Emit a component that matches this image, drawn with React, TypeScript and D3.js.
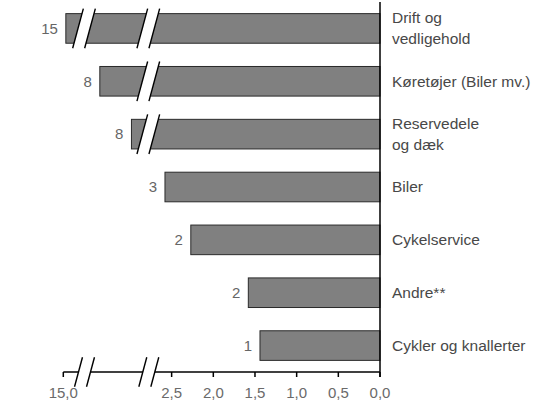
import React, { useEffect, useRef } from 'react';
import * as d3 from 'd3';

// Categories from top to bottom (multi-line labels split on '\n')
const categories = [
  'Drift og\nvedligehold',
  'Køretøjer (Biler mv.)',
  'Reservedele\nog dæk',
  'Biler',
  'Cykelservice',
  'Andre**',
  'Cykler og knallerter',
];
const values = [14.8, 8.3, 7.7, 2.58, 2.27, 1.58, 1.44];
const tickValues = [15, 2.5, 2, 1.5, 1, 0.5, 0];
// Broken axis: domain knots of the piecewise scale, breaks drawn at these values
const axisKnots = [0, 2.78, 7.5, 8.6, 14, 15];
const axisBreaks = [2.78, 8.6];

const App: React.FC = () => {
  const svgRef = useRef<SVGSVGElement>(null);

  useEffect(() => {
    if (!svgRef.current) return;
    const width = 533;
    const height = 402;
    const plotRight = 380;
    const plotLeft = 63.3;
    const axisY = 372;
    const unit = (plotRight - 148.3) / 2.78;

    const svg = d3.select(svgRef.current);
    svg.selectAll('*').remove();
    svg.attr('width', width).attr('height', height);

    const x = d3.scaleLinear()
      .domain(axisKnots)
      .range([plotRight, plotRight - 2.78 * unit, 142, 84, 76, plotLeft]);

    const y = d3.scaleBand()
      .domain(categories)
      .range([2, axisY])
      .paddingInner(0.44)
      .paddingOuter(0.22);

    const font = 'Liberation Sans, Arial, sans-serif';

    // bars
    svg.append('g')
      .selectAll('rect')
      .data(values)
      .enter()
      .append('rect')
      .attr('x', d => x(d))
      .attr('y', (d, i) => y(categories[i]) as number)
      .attr('width', d => plotRight - x(d))
      .attr('height', y.bandwidth())
      .attr('fill', '#808080')
      .attr('stroke', '#2a2a2a')
      .attr('stroke-width', 1);

    // break marks (two slanted lines with a white gap)
    const slope = 0.27;
    const drawBreak = (cx: number, ymid: number, half: number) => {
      const g = svg.append('g');
      const xs = (off: number, yy: number) => cx + off - (yy - ymid) * slope;
      const y0 = ymid + half;
      const y1 = ymid - half;
      g.append('polygon')
        .attr('points', [
          [xs(-6, y0), y0], [xs(-6, y1), y1], [xs(6, y1), y1], [xs(6, y0), y0],
        ].map(p => p.join(',')).join(' '))
        .attr('fill', '#fff');
      [-6, 6].forEach(off => {
        g.append('line')
          .attr('x1', xs(off, y0)).attr('y1', y0)
          .attr('x2', xs(off, y1)).attr('y2', y1)
          .attr('stroke', '#000')
          .attr('stroke-width', 1.4);
      });
    };

    values.forEach((v, i) => {
      const ymid = (y(categories[i]) as number) + y.bandwidth() / 2;
      axisBreaks.forEach(b => {
        if (v > b) drawBreak(x(b), ymid, y.bandwidth() / 2 + 5);
      });
    });

    // value labels
    svg.append('g')
      .selectAll('text')
      .data(values)
      .enter()
      .append('text')
      .attr('x', d => x(d) - 8)
      .attr('y', (d, i) => (y(categories[i]) as number) + y.bandwidth() / 2)
      .attr('dy', '0.35em')
      .attr('text-anchor', 'end')
      .attr('font-family', font)
      .attr('font-size', 15)
      .attr('fill', '#666')
      .text(d => String(Math.round(d)));

    // category labels
    categories.forEach(c => {
      const lines = c.split('\n');
      const cy = (y(c) as number) + y.bandwidth() / 2;
      const t = svg.append('text')
        .attr('font-family', font)
        .attr('font-size', 15.5)
        .attr('fill', '#484848');
      lines.forEach((l, k) => {
        t.append('tspan')
          .attr('x', 392)
          .attr('y', cy + (k - (lines.length - 1) / 2) * 21)
          .attr('dy', '0.35em')
          .text(l);
      });
    });

    // x axis
    const axis = svg.append('g');
    axis.append('line')
      .attr('x1', plotLeft).attr('x2', plotRight)
      .attr('y1', axisY).attr('y2', axisY)
      .attr('stroke', '#000').attr('stroke-width', 1.5);
    tickValues.forEach(t => {
      axis.append('line')
        .attr('x1', x(t)).attr('x2', x(t))
        .attr('y1', axisY).attr('y2', axisY + 5)
        .attr('stroke', '#000').attr('stroke-width', 1.5);
      axis.append('text')
        .attr('x', x(t))
        .attr('y', 398)
        .attr('text-anchor', 'middle')
        .attr('font-family', font)
        .attr('font-size', 15)
        .attr('fill', '#6a6a6a')
        .text(d3.format('.1f')(t).replace('.', ','));
    });
    axisBreaks.forEach(b => drawBreak(x(b) + 0.5, axisY, 14.7));

    // y axis
    svg.append('line')
      .attr('x1', plotRight).attr('x2', plotRight)
      .attr('y1', 2).attr('y2', axisY + 5)
      .attr('stroke', '#000').attr('stroke-width', 1.5);
  }, []);

  return (
    <div style={{ position: 'absolute', left: 0, top: 0 }}>
      <svg ref={svgRef} style={{ display: 'block' }}></svg>
    </div>
  );
};

export default App;
